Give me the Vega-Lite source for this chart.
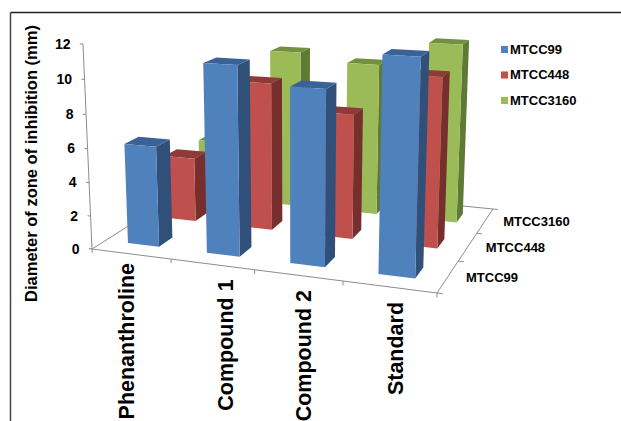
{
"$schema":"https://vega.github.io/schema/vega-lite/v6.json",
"width":611,"height":409,"autosize":"none","padding":{"left":10,"top":12,"right":0,"bottom":0},
"background":"white",
"config":{"view":{"stroke":null},"font":"Liberation Sans"},
"datasets":{
"bars":[
{"compound":"Phenanthroline","strain":"MTCC3160","value":3.8},
{"compound":"Compound 1","strain":"MTCC3160","value":10},
{"compound":"Compound 2","strain":"MTCC3160","value":9.5},
{"compound":"Standard","strain":"MTCC3160","value":11},
{"compound":"Phenanthroline","strain":"MTCC448","value":4},
{"compound":"Compound 1","strain":"MTCC448","value":9},
{"compound":"Compound 2","strain":"MTCC448","value":7.5},
{"compound":"Standard","strain":"MTCC448","value":10},
{"compound":"Phenanthroline","strain":"MTCC99","value":6},
{"compound":"Compound 1","strain":"MTCC99","value":11},
{"compound":"Compound 2","strain":"MTCC99","value":10},
{"compound":"Standard","strain":"MTCC99","value":12}
],
"axes":[
{"axis":"value","tick":0},{"axis":"front","tick":0},{"axis":"right","tick":0},{"axis":"leftFloor","tick":0},{"axis":"backFloor","tick":0},
{"axis":"tickValue","tick":0},{"axis":"tickValue","tick":2},{"axis":"tickValue","tick":4},{"axis":"tickValue","tick":6},{"axis":"tickValue","tick":8},{"axis":"tickValue","tick":10},{"axis":"tickValue","tick":12},
{"axis":"tickCategory","tick":0},{"axis":"tickCategory","tick":1},{"axis":"tickCategory","tick":2},{"axis":"tickCategory","tick":3},{"axis":"tickCategory","tick":4},
{"axis":"tickSeries","tick":0},{"axis":"tickSeries","tick":1},{"axis":"tickSeries","tick":2},{"axis":"tickSeries","tick":3}
]
},
"encoding":{
"x":{"field":"X","type":"quantitative","scale":{"domain":[10,621],"nice":false,"zero":false},
"axis":{"orient":"top","title":null,"labels":false,"ticks":false,"grid":false,"domain":true,"domainColor":"#222222","domainWidth":1.5,"zindex":1}},
"y":{"field":"Y","type":"quantitative","scale":{"domain":[12,421],"reverse":true,"nice":false,"zero":false},
"axis":{"orient":"left","title":"Diameter of zone of inhibition (mm)","labels":false,"ticks":false,"grid":false,"domain":true,"domainColor":"#444444","domainWidth":1.5,"zindex":1,"titleX":21,"titleY":151,"titleAngle":270,"titleAlign":"center","titleBaseline":"middle","titleFont":"Liberation Sans","titleFontSize":16.5,"titleFontWeight":"bold","titleColor":"#000000"}}
},
"layer":[
{
"data":{"name":"axes"},
"transform":[
{"calculate":"[0,1]","as":"e"},{"flatten":["e"]},
{"calculate":"datum.axis+datum.tick","as":"id"},
{"calculate":"datum.axis=='tickValue'?-0.01*datum.e:datum.axis=='tickCategory'?datum.tick/4:datum.axis=='tickSeries'?1+0.015*datum.e:(datum.axis=='front'||datum.axis=='backFloor')?datum.e:datum.axis=='right'?1:0","as":"U"},
{"calculate":"datum.axis=='tickSeries'?datum.tick/3:(datum.axis=='right'||datum.axis=='leftFloor')?datum.e:datum.axis=='backFloor'?1:0","as":"V"},
{"calculate":"datum.axis=='tickValue'?datum.tick/12:datum.axis=='tickCategory'?-0.02*datum.e:datum.axis=='value'?datum.e:0","as":"T"},
{"calculate":"(297.49*datum.U+149.67*datum.V+92-12.53*datum.T)/(1-0.10871*datum.U+0.20235*datum.V-0.0425*datum.T)","as":"X"},
{"calculate":"(12.15*datum.U-32.58*datum.V+249-206.87*datum.T)/(1-0.10871*datum.U+0.20235*datum.V-0.0425*datum.T)","as":"Y"}
],
"mark":{"type":"line","stroke":"#8c8c8c","strokeWidth":1},
"encoding":{"detail":{"field":"id"},"order":{"field":"e"}}
},
{
"data":{"name":"bars"},
"transform":[
{"calculate":"indexof(['Phenanthroline','Compound 1','Compound 2','Standard'],datum.compound)","as":"ci"},
{"calculate":"indexof(['MTCC99','MTCC448','MTCC3160'],datum.strain)","as":"si"},
{"calculate":"[[0,0,1,0,0],[0,1,1,1,0],[0,2,1,1,1],[0,3,1,0,1],[1,0,0,0,1],[1,1,1,0,1],[1,2,1,1,1],[1,3,0,1,1],[2,0,0,0,0],[2,1,1,0,0],[2,2,1,0,1],[2,3,0,0,1]]","as":"vtx"},
{"flatten":["vtx"]},
{"calculate":"['side','top','front'][datum.vtx[0]]","as":"face"},
{"calculate":"datum.vtx[1]","as":"o"},
{"calculate":"datum.strain+'|'+datum.face","as":"shade"},
{"calculate":"datum.compound+'|'+datum.shade","as":"fid"},
{"calculate":"(datum.ci+0.49+(datum.vtx[2]-0.5)*0.4)/4","as":"U"},
{"calculate":"(datum.si+0.5+(datum.vtx[3]-0.5)*0.35)/3","as":"V"},
{"calculate":"datum.vtx[4]*datum.value/12","as":"T"},
{"calculate":"(297.49*datum.U+149.67*datum.V+92-12.53*datum.T)/(1-0.10871*datum.U+0.20235*datum.V-0.0425*datum.T)","as":"X"},
{"calculate":"(12.15*datum.U-32.58*datum.V+249-206.87*datum.T)/(1-0.10871*datum.U+0.20235*datum.V-0.0425*datum.T)","as":"Y"}
],
"mark":{"type":"line","strokeWidth":0},
"encoding":{
"detail":{"field":"fid"},
"order":{"field":"o"},
"fill":{"field":"shade","type":"nominal","legend":null,"scale":{
"domain":["MTCC99|front","MTCC99|top","MTCC99|side","MTCC448|front","MTCC448|top","MTCC448|side","MTCC3160|front","MTCC3160|top","MTCC3160|side"],
"range":["#4F81BD","#3A6297","#30507A","#C0504D","#8E3A38","#772F2D","#9BBB59","#738F40","#5F7A34"]}}
}
},
{
"data":{"name":"bars"},
"transform":[{"calculate":"300","as":"X"},{"calculate":"200","as":"Y"}],
"mark":{"type":"point","filled":true,"opacity":0},
"encoding":{"color":{"field":"strain","type":"nominal","title":null,
"scale":{"domain":["MTCC99","MTCC448","MTCC3160"],"range":["#4F81BD","#C0504D","#9BBB59"]},
"legend":{"orient":"none","legendX":488,"legendY":31,"padding":0,"symbolType":"square","symbolSize":50,"symbolOpacity":1,"symbolStrokeWidth":0,"labelFont":"Liberation Sans","labelFontSize":13,"labelFontWeight":"bold","labelColor":"#000000","rowPadding":11.5,"labelOffset":-1}}}
},
{
"data":{"name":"axes"},
"transform":[
{"filter":"datum.axis=='tickValue'"},
{"calculate":"datum.tick/12","as":"T"},
{"calculate":"(92-12.53*datum.T)/(1-0.0425*datum.T)","as":"X"},
{"calculate":"(249-206.87*datum.T)/(1-0.0425*datum.T)","as":"Y"},
{"calculate":"''+datum.tick","as":"label"}
],
"mark":{"type":"text","align":"right","baseline":"middle","dx":-12.5,"dy":0.5,"font":"Liberation Sans","fontSize":14,"fontWeight":"bold","color":"#000000"},
"encoding":{"text":{"field":"label"}}
},
{
"data":{"name":"bars"},
"transform":[
{"filter":"datum.strain=='MTCC99'"},
{"calculate":"indexof(['Phenanthroline','Compound 1','Compound 2','Standard'],datum.compound)","as":"ci"},
{"calculate":"(datum.ci+0.5)/4","as":"U"},
{"calculate":"(297.49*datum.U+92)/(1-0.10871*datum.U)+[-2.5,14.5,6.8,7.2][datum.ci]","as":"X"},
{"calculate":"(12.15*datum.U+249)/(1-0.10871*datum.U)+[9,15,14.7,15][datum.ci]","as":"Y"}
],
"mark":{"type":"text","angle":270,"align":"right","baseline":"middle","font":"Liberation Sans","fontSize":21.5,"fontWeight":"bold","color":"#000000"},
"encoding":{"text":{"field":"compound"}}
},
{
"data":{"name":"bars"},
"transform":[
{"filter":"datum.compound=='Standard'"},
{"calculate":"indexof(['MTCC99','MTCC448','MTCC3160'],datum.strain)","as":"si"},
{"calculate":"(389.49+149.67*(datum.si+0.5)/3)/(0.89129+0.20235*(datum.si+0.5)/3)","as":"X"},
{"calculate":"(261.15-32.58*(datum.si+0.5)/3)/(0.89129+0.20235*(datum.si+0.5)/3)","as":"Y"}
],
"mark":{"type":"text","align":"left","baseline":"middle","dx":18,"dy":1.5,"font":"Liberation Sans","fontSize":13,"fontWeight":"bold","color":"#000000"},
"encoding":{"text":{"field":"strain"}}
}
]
}
